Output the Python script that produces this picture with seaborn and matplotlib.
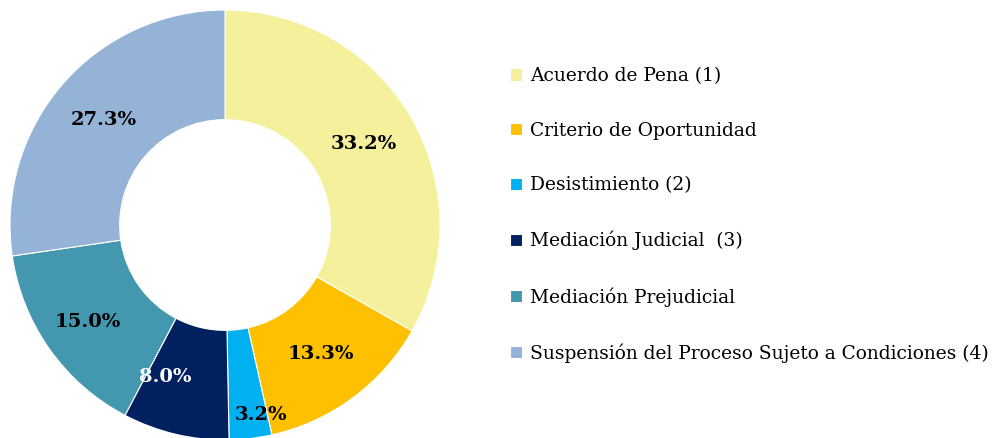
import numpy as np
import matplotlib
matplotlib.use("Agg")
import matplotlib.pyplot as plt
import seaborn as sns

# data
labels = ["Acuerdo de Pena (1)", "Criterio de Oportunidad", "Desistimiento (2)",
          "Mediación Judicial  (3)", "Mediación Prejudicial",
          "Suspensión del Proceso Sujeto a Condiciones (4)"]
shares = [33.2, 13.3, 3.2, 8.0, 15.0, 27.3]
colors = ["#F5F09B", "#FFC000", "#00B0F0", "#002060", "#4397AE", "#95B3D7"]
label_colors = ["black", "black", "black", "white", "black", "black"]

sns.set_theme(style="white")
plt.rcParams["font.family"] = ["DejaVu Serif"]
plt.rcParams["text.color"] = "black"

fig = plt.figure(figsize=(9.93, 4.38), dpi=100)
ax = fig.add_axes([10 / 993, -2 / 438, 430 / 993, 430 / 438])

wedges, texts, autotexts = ax.pie(
    shares, colors=colors, startangle=90, counterclock=False,
    radius=1.0, autopct="%.1f%%", pctdistance=0.745,
    wedgeprops=dict(width=0.51, edgecolor="white", linewidth=0.8),
    textprops=dict(fontsize=14, fontweight="bold"))

for t, c in zip(autotexts, label_colors):
    t.set_color(c)

# a few labels were nudged by hand in the original (radius factor, angle shift in deg)
nudges = {2: (0.90, 4), 3: (0.76, -8), 4: (0.78, 0)}
for i, (r, dang) in nudges.items():
    w = wedges[i]
    ang = np.deg2rad((w.theta1 + w.theta2) / 2 + dang)
    autotexts[i].set_position((r * np.cos(ang), r * np.sin(ang)))

ax.set_xlim(-1, 1)
ax.set_ylim(-1, 1)
ax.set_aspect("equal")
ax.axis("off")

fig.legend(wedges, labels, loc="upper left", bbox_to_anchor=(510 / 993, 1 - 67 / 438),
           frameon=False, fontsize=13.4, handlelength=0.65, handleheight=0.65,
           handletextpad=0.45, labelspacing=1.97, borderaxespad=0, borderpad=0)

fig.savefig("out.png", dpi=100)
